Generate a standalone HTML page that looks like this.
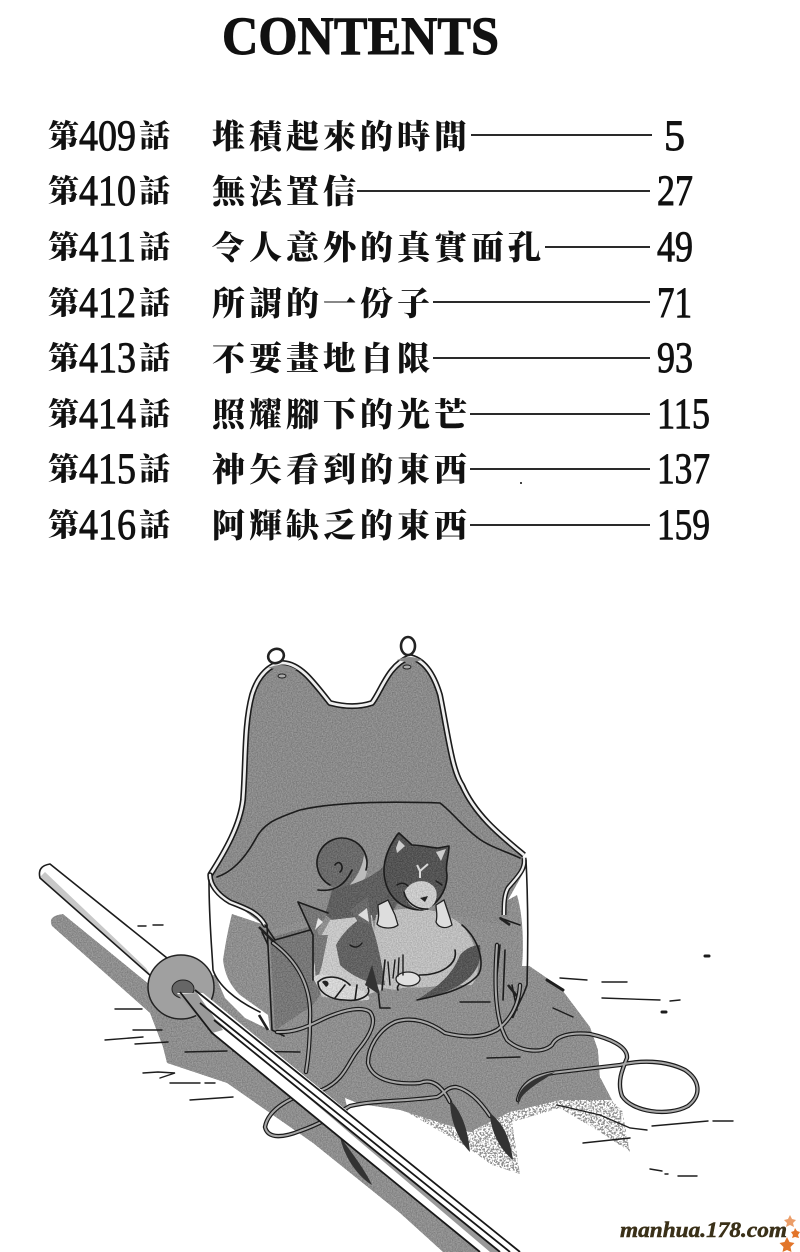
<!DOCTYPE html>
<html><head><meta charset="utf-8"><style>
html,body{margin:0;padding:0;background:#fff}
svg{display:block}
.cj{font-family:"Liberation Serif","Noto Serif CJK TC","Noto Serif CJK SC",serif;font-weight:900;font-size:33px;fill:#111;letter-spacing:4px}
.k{font-size:31px;letter-spacing:0}
.n{font-family:"Liberation Serif",serif;font-size:43px;fill:#111;stroke:#111;stroke-width:.9}
.l{stroke:#2a2a2a;stroke-width:2;fill:none}
.o{fill:none;stroke:#1c1c1c;stroke-width:1.6;stroke-linejoin:round;stroke-linecap:round}
.s{fill:none;stroke:#1d1d1d;stroke-width:1.4;stroke-linecap:round}
</style></head><body>
<svg xmlns="http://www.w3.org/2000/svg" width="800" height="1252" viewBox="0 0 800 1252">
<defs>
<filter id="g" x="-5%" y="-5%" width="110%" height="110%" color-interpolation-filters="sRGB">
<feTurbulence type="fractalNoise" baseFrequency=".8" numOctaves="2" seed="4" result="t"/>
<feColorMatrix in="t" type="matrix" values="1 0 0 0 0 1 0 0 0 0 1 0 0 0 0 0 0 0 0 1" result="m"/>
<feComposite in="SourceGraphic" in2="m" operator="arithmetic" k1="0" k2="1" k3=".28" k4="-.14" result="c"/>
<feComposite in="c" in2="SourceAlpha" operator="in"/>
</filter>
<filter id="d" x="-5%" y="-5%" width="110%" height="110%" color-interpolation-filters="sRGB">
<feTurbulence type="fractalNoise" baseFrequency=".55" numOctaves="2" seed="12" result="t"/>
<feColorMatrix in="t" type="matrix" values="0 0 0 0 0 0 0 0 0 0 0 0 0 0 0 9 0 0 0 -4.2" result="a"/>
<feComposite in="SourceGraphic" in2="a" operator="in"/>
</filter>
<path id="a1" d="M277 1032C300 1033 315 1022 330 1016C345 1010 362 1006 370 1012C378 1022 368 1038 358 1050C348 1062 345 1080 322 1090C290 1095 268 1110 265 1127C268 1140 285 1137 300 1131C320 1124 335 1115 350 1106C375 1100 400 1102 437 1097C444 1094 446 1087 456 1087C470 1090 482 1104 490 1116"/>
<path id="a2" d="M520 985C519 1005 510 1020 497 1030C482 1038 465 1038 445 1033C430 1022 412 1016 395 1022C378 1030 368 1048 368 1063C372 1080 395 1085 420 1083C432 1078 442 1086 450 1102"/>
<path id="a3" d="M497 945C494 985 495 1020 507 1040C520 1052 542 1054 552 1045C556 1036 570 1032 590 1034C608 1038 628 1046 627 1058C622 1070 617 1082 622 1096C632 1112 668 1117 688 1106C702 1095 700 1080 685 1070C665 1060 640 1060 620 1065L560 1072C540 1074 522 1080 518 1100"/>
<path id="a4" d="M273 943C296 960 312 985 310 1020C310 1045 308 1060 306 1072"/>
</defs>
<rect width="800" height="1252" fill="#fff"/>

<!-- title -->
<text x="222" y="54" textLength="277" lengthAdjust="spacingAndGlyphs" font-family="Liberation Serif,serif" font-weight="700" font-size="54" fill="#111" stroke="#111" stroke-width="1">CONTENTS</text>

<!-- contents -->
<g class="cj">
<text class="k" x="48" y="147">第</text><text class="k" x="139" y="147">話</text><text x="212" y="148">堆積起來的時間</text>
<text class="k" x="48" y="202">第</text><text class="k" x="139" y="202">話</text><text x="212" y="203">無法置信</text>
<text class="k" x="48" y="258">第</text><text class="k" x="139" y="258">話</text><text x="212" y="259">令人意外的真實面孔</text>
<text class="k" x="48" y="314">第</text><text class="k" x="139" y="314">話</text><text x="212" y="315">所謂的一份子</text>
<text class="k" x="48" y="369">第</text><text class="k" x="139" y="369">話</text><text x="212" y="370">不要畫地自限</text>
<text class="k" x="48" y="425">第</text><text class="k" x="139" y="425">話</text><text x="212" y="426">照耀腳下的光芒</text>
<text class="k" x="48" y="480">第</text><text class="k" x="139" y="480">話</text><text x="212" y="481">神矢看到的東西</text>
<text class="k" x="48" y="536">第</text><text class="k" x="139" y="536">話</text><text x="212" y="537">阿輝缺乏的東西</text>
</g>
<g class="n">
<text x="79" y="150" textLength="57" lengthAdjust="spacingAndGlyphs">409</text>
<text x="79" y="205" textLength="57" lengthAdjust="spacingAndGlyphs">410</text>
<text x="79" y="261" textLength="57" lengthAdjust="spacingAndGlyphs">411</text>
<text x="79" y="317" textLength="57" lengthAdjust="spacingAndGlyphs">412</text>
<text x="79" y="372" textLength="57" lengthAdjust="spacingAndGlyphs">413</text>
<text x="79" y="428" textLength="57" lengthAdjust="spacingAndGlyphs">414</text>
<text x="79" y="483" textLength="57" lengthAdjust="spacingAndGlyphs">415</text>
<text x="79" y="539" textLength="57" lengthAdjust="spacingAndGlyphs">416</text>
<text x="664" y="150" textLength="21" lengthAdjust="spacingAndGlyphs">5</text>
<text x="657" y="205" textLength="36" lengthAdjust="spacingAndGlyphs">27</text>
<text x="657" y="261" textLength="36" lengthAdjust="spacingAndGlyphs">49</text>
<text x="657" y="317" textLength="35" lengthAdjust="spacingAndGlyphs">71</text>
<text x="657" y="372" textLength="36" lengthAdjust="spacingAndGlyphs">93</text>
<text x="657" y="428" textLength="53" lengthAdjust="spacingAndGlyphs">115</text>
<text x="657" y="483" textLength="53" lengthAdjust="spacingAndGlyphs">137</text>
<text x="657" y="539" textLength="53" lengthAdjust="spacingAndGlyphs">159</text>
</g>
<path class="l" d="M471 135H652M357 191H650M545 247H650M433 302H650M433 358H650M470 414H650M470 469H650M470 525H650"/>
<rect x="520" y="482" width="2" height="2" fill="#444"/>

<!-- ground shadow -->
<path filter="url(#g)" fill="#8e8e8e" d="M52 926Q47 916 63 914L150 985L215 975L226 912L265 925L510 890L526 900L528 965L560 987L590 1027L598 1050L600 1077L612 1100L560 1100L510 1112L470 1132L400 1110L360 1104L345 1098L350 1120L480 1252L443 1252L400 1213L313 1143L280 1120L227 1083L167 1063L163 1047L150 1013Z"/>
<path filter="url(#d)" fill="#8e8e8e" d="M400 1108L467 1147L492 1165L520 1174L512 1122L560 1108L600 1132L630 1152L622 1110L600 1090L520 1105L470 1125Z"/>
<path fill="#fff" d="M598 1049L626 1056L622 1075L600 1078Z"/>
<path filter="url(#g)" fill="#777" d="M270 938L316 925L330 980L313 1005L275 1030Z"/>

<!-- ground scratches -->
<g class="s">
<path d="M138 926H146M153 925H163M115 1009H142M105 1040L143 1037M133 1030H162M135 1044L168 1042M185 1052L227 1051M233 1051L300 1052M143 1073L158 1072L175 1073L160 1078M170 1083H200M205 1083H215M190 1100L233 1097M560 978L587 980M602 982H627M602 998L660 1000M670 1001L680 1000M652 1126L708 1121M713 1121H733M650 1169L662 1171M665 1174H668M678 1176H697M583 1143L630 1138M557 1105L600 1115L630 1128L647 1130M460 1002H490M553 1008L573 1017M487 1058L520 1057"/>
<path stroke-width="3" d="M547 980L563 990M705 956H709M662 1012H666"/>
</g>

<!-- armour back (bib) -->
<path filter="url(#g)" fill="#8a8a8a" d="M210 873C226 850 240 825 243 800C246 760 244 725 252 695C258 675 270 664 283 663C300 664 312 680 330 703C345 707 360 707 372 703C382 690 388 665 410 657C425 660 434 675 440 695C448 735 452 770 462 785C475 815 500 835 522 852L526 870L515 890L505 925L445 912L318 916L270 930L210 885Z"/>
<!-- inner surface line -->
<path class="o" stroke-width="2" d="M217 877C232 872 245 858 255 840C264 822 278 818 300 810C330 803 380 801 440 803C452 812 462 826 478 838C490 847 505 851 520 858"/>
<!-- bib border (white band) -->
<path fill="none" stroke="#1b1b1b" stroke-width="6" stroke-linejoin="round" d="M210 875C226 850 240 825 243 800C246 760 244 725 252 695C258 675 270 664 283 663C300 664 312 680 330 703C345 707 360 707 372 703C382 690 388 665 410 657C425 660 434 675 440 695C448 735 452 770 462 785C475 815 500 835 524 855"/>
<path fill="none" stroke="#eee" stroke-width="2.8" stroke-linejoin="round" d="M210 875C226 850 240 825 243 800C246 760 244 725 252 695C258 675 270 664 283 663C300 664 312 680 330 703C345 707 360 707 372 703C382 690 388 665 410 657C425 660 434 675 440 695C448 735 452 770 462 785C475 815 500 835 524 855"/>
<!-- rings and holes -->
<ellipse cx="276" cy="656" rx="8" ry="7" transform="rotate(-25 276 656)" fill="#fff" stroke="#222" stroke-width="2.6"/>
<ellipse cx="408" cy="646" rx="7" ry="9" fill="#fff" stroke="#222" stroke-width="2.6"/>
<path d="M268 668Q283 661 297 670L283 670ZM397 660Q410 654 422 660L410 663Z" fill="#8a8a8a"/>
<ellipse cx="282" cy="676" rx="4" ry="2" fill="#aaa" stroke="#222"/>
<ellipse cx="407" cy="667" rx="4" ry="2" fill="#aaa" stroke="#222"/>

<!-- armour front -->
<path fill="#fff" d="M209 880C216 895 232 903 233 910C229 925 226 940 223 960C225 975 230 985 240 995L268 1015L270 1030L245 1018L225 998L213 970Z"/>
<path fill="#fff" d="M508 900L526 868L529 966L522 966C524 945 523 915 517 895Z"/>
<path fill="none" stroke="#1b1b1b" stroke-width="5.5" stroke-linecap="round" d="M210 875C210 885 218 895 230 902C245 908 258 912 265 925"/>
<path fill="none" stroke="#eee" stroke-width="2.4" stroke-linecap="round" d="M210 875C210 885 218 895 230 902C245 908 258 912 265 925"/>
<path fill="none" stroke="#1b1b1b" stroke-width="5" d="M524 858C526 870 516 878 508 888C504 895 504 905 504 915"/>
<path fill="none" stroke="#eee" stroke-width="2.2" d="M524 858C526 870 516 878 508 888C504 895 504 905 504 915"/>
<path class="o" d="M209 880C209 920 212 950 213 970C218 985 235 1000 260 1012M526 860C528 900 528 950 527 985C522 1000 515 1010 510 1018"/>
<path class="o" d="M267 925L272 1030L284 1036M265 925L275 940L317 928M500 918L520 925M262 932L268 945M500 945L496 985M505 950L503 1000M512 985L517 1010"/>
<path fill="none" stroke="#222" stroke-width="2.6" d="M259 927L280 948M259 1015L268 1030M500 918L510 925M508 985L520 1000L512 1018"/>

<!-- dogs -->
<g>
<!-- tail of top dog -->
<circle cx="342" cy="864" r="25" filter="url(#g)" fill="#6a6a6a"/>
<path d="M345 890C355 880 362 870 364 855C370 868 368 885 350 890Z" fill="#bbb"/>
<path class="o" d="M330 885A25 25 0 1 1 366 870M318 890C335 892 345 885 352 870M335 865C340 858 345 868 340 872"/>
<!-- top dog body -->
<path filter="url(#g)" fill="#5f5f5f" d="M325 915L332 890C350 885 370 880 385 865L395 855L400 900L390 915L360 925L340 925Z"/>
<!-- lower dog -->
<path filter="url(#g)" fill="#bdbdbd" d="M376 915C400 905 440 905 462 925C480 945 482 975 472 985L440 985C425 990 410 985 395 990L380 988L370 960Z"/>
<path filter="url(#g)" fill="#555" d="M480 945C484 972 465 990 417 1000C440 985 452 975 460 955C466 948 474 945 480 945Z"/>
<path class="o" d="M462 925C480 940 485 965 478 975C465 990 440 995 417 1000M455 950C458 965 440 975 420 975C405 978 395 985 398 990"/>
<!-- lower dog head -->
<path filter="url(#g)" fill="#c6c6c6" d="M313 975L316 945L330 920L372 915L382 990L350 1000L322 997Z"/>
<path filter="url(#g)" fill="#626262" d="M336 945C345 928 360 918 368 915C378 940 382 965 385 985C370 985 350 975 340 965Z"/>
<path filter="url(#g)" fill="#777" d="M313 935L316 985L322 965L328 935Z"/>
<path filter="url(#g)" fill="#777" d="M298 902L328 913L314 935Z"/>
<path fill="#e4e4e4" d="M318 918L323 922L315 930Z"/>
<path filter="url(#g)" fill="#6a6a6a" d="M350 910L368 896L372 925L358 922Z"/>
<path fill="#ddd" d="M358 915L367 908L369 922Z"/>
<path filter="url(#g)" fill="#d4d4d4" d="M313 978C320 970 335 975 350 985C368 990 372 1000 368 1000C350 1002 330 1000 322 995Z"/>
<path class="o" d="M298 902L328 913M298 902L313 935L313 980M350 985C340 975 325 975 318 982C318 992 330 1000 345 1000C360 1002 372 995 368 988M345 985L335 998M357 985L355 1000M378 990L380 1008H390M385 960L382 990"/>
<path d="M372 965L380 995L365 985Z" fill="#333"/>
<path d="M322 982C326 978 332 984 326 987Z" fill="#222"/>
<ellipse cx="408" cy="979" rx="12" ry="7" fill="#e0e0e0" stroke="#222" stroke-width="1.3"/>
<path class="s" d="M395 960L393 978M399 958L398 976M403 955L403 975M388 962L390 985M350 945Q357 950 362 943"/>
<!-- top dog head -->
<path filter="url(#g)" fill="#545454" d="M385 880C381 862 390 845 397 835L399 833L412 845C422 845 432 848 438 848L449 846C449 855 445 865 447 875C447 890 438 906 422 910C400 910 388 895 385 880Z"/>
<path class="o" d="M385 880C381 862 390 845 397 835L399 833L412 845C422 845 432 848 438 848L449 846C449 855 445 865 447 875C447 890 438 906 422 910C400 910 388 895 385 880Z"/>
<path d="M396 848L399 840L405 846L397 853ZM436 852L446 849L441 861Z" fill="#ccc"/>
<path filter="url(#g)" fill="#c9c9c9" d="M404 892C410 880 425 878 432 885C440 890 438 907 425 910C412 910 405 902 404 892Z"/>
<path class="o" d="M404 892C406 902 416 910 428 909"/>
<path d="M420 871L417 865M420 871L428 864M420 871V878" stroke="#d8d8d8" stroke-width="2" fill="none"/>
<path d="M420 898L428 896L425 902Z" fill="#222"/>
<path class="s" d="M397 885Q403 881 408 886M436 881L442 885"/>
<!-- paws -->
<path fill="#ddd" stroke="#222" stroke-width="1.3" d="M378 905L388 900L395 915L398 925C392 930 380 928 377 924C380 915 378 910 378 905Z"/>
<path fill="#ddd" stroke="#222" stroke-width="1.3" d="M436 905L444 900L450 918L452 925C445 930 438 927 436 922C438 915 436 910 436 905Z"/>
</g>

<!-- straps -->
<g fill="none" stroke-linecap="round" stroke-linejoin="round">
<g stroke="#1b1b1b" stroke-width="4.4"><use href="#a1"/><use href="#a2"/><use href="#a3"/><use href="#a4"/></g>
<g stroke="#a8a8a8" stroke-width="2"><use href="#a1"/><use href="#a2"/><use href="#a3"/><use href="#a4"/></g>
</g>
<!-- tassels -->
<g fill="#333">
<path d="M340 1137C350 1150 365 1170 372 1185C360 1178 345 1160 340 1137Z"/>
<path d="M450 1100C462 1112 468 1130 470 1152C458 1140 450 1120 450 1100Z"/>
<path d="M490 1113C505 1125 510 1140 513 1160C500 1150 490 1130 490 1113Z"/>
<path d="M518 1105C515 1090 530 1078 555 1072C540 1082 525 1090 520 1100Z"/>
</g>

<!-- sword -->
<path fill="#fff" d="M40 878Q37 866 50 864L167 958L152 977Z"/>
<path fill="#c8c8c8" d="M40 877L152 977L146 968L45 872Z"/>
<path class="o" d="M152 977L40 878Q37 866 50 864L167 958"/>
<ellipse cx="181" cy="987" rx="33" ry="32" fill="#a0a0a0" stroke="#222" stroke-width="1.5"/>
<ellipse cx="183" cy="989" rx="11" ry="9" fill="#666" stroke="#222"/>
<path fill="#fff" d="M177 993L203 993L520 1252L480 1252L212 1033Z"/>
<path fill="#9a9a9a" d="M177 994L197 993L223 1030L212 1033Z"/>
<path fill="#999" d="M200 1006L214 1020L500 1252H490Z"/>
<path fill="none" stroke="#181818" stroke-width="1.8" d="M195 990L520 1252M180 992L212 1033L480 1252M200 1003L510 1252M214 1020L500 1252"/>

<!-- watermark -->
<text x="620" y="1237" textLength="167" lengthAdjust="spacingAndGlyphs" font-family="Liberation Serif,serif" font-style="italic" font-weight="700" font-size="22" fill="#3a3018" stroke="#3a3018" stroke-width=".5">manhua.178.com</text>
<g fill="#e2752a">
<path d="M790 1215l2 4 4 1-3 3 1 4-4-2-4 2 1-4-3-3 4-1z" opacity=".7"/>
<path d="M795 1228l2 3 3 1-2 3 1 3-4-1-3 1 1-3-2-3 3-1z"/>
<path d="M787 1237l2.500 5 5 1-4 4 1 5-4.500-2-4.500 2 1-5-4-4 5-1z"/>
</g>
</svg>
</body></html>
